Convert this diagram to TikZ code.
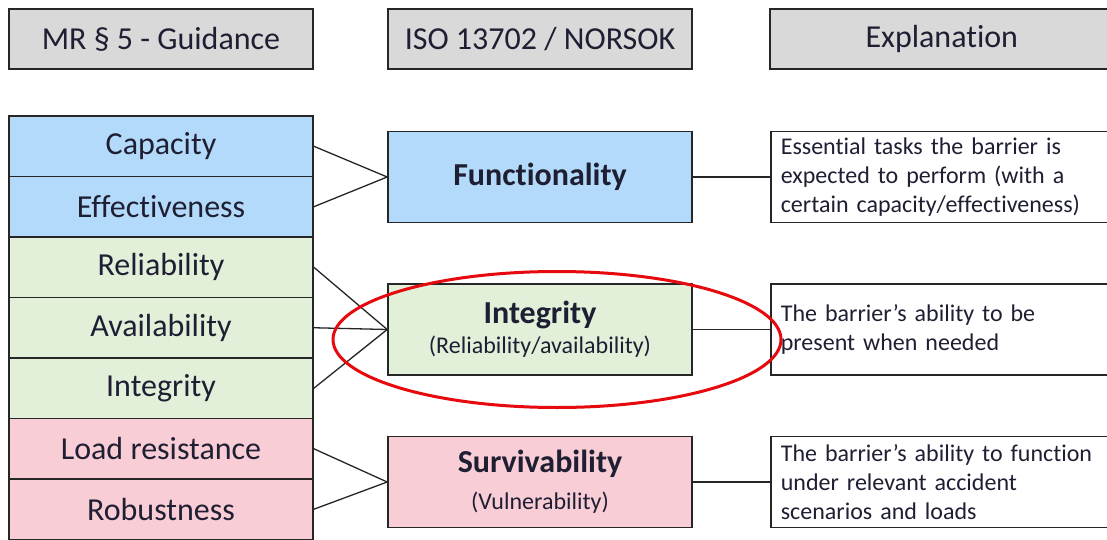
\documentclass[tikz,border=0pt]{standalone}
\usepackage{fontspec}
\setmainfont{Carlito}[Ligatures=NoCommon]
\usetikzlibrary{positioning,calc}
\definecolor{hdrgray}{HTML}{D9D9D9}
\definecolor{funblue}{HTML}{B3DAFA}
\definecolor{intgreen}{HTML}{E2EFD9}
\definecolor{survpink}{HTML}{F8CDD5}
\definecolor{edge}{HTML}{262626}
\definecolor{ink}{HTML}{1F1F33}
\definecolor{ringred}{HTML}{E60A0E}
\tikzset{cell/.style={draw=edge,line width=1.6pt,minimum width=304pt,minimum height=60.5pt,inner sep=0pt,font=\fontsize{32}{34}\selectfont,text=ink},
  hdr/.style={cell,fill=hdrgray,minimum height=60pt},
  prop/.style={cell,minimum height=91pt,align=center},
  expl/.style={draw=edge,line width=1.6pt,anchor=west,minimum width=350pt,minimum height=91pt,
    text width=330pt,inner xsep=10pt,align=left,font=\fontsize{24}{29}\selectfont,text=ink},
  link/.style={draw=edge,line width=1.3pt}}
\begin{document}
\begin{tikzpicture}[x=1pt,y=-1pt]
\useasboundingbox (0,0) rectangle (1107,540);
\clip (0,0) rectangle (1107,540);
\fill[white] (0,0) rectangle (1107,540);
% column headers
\node[hdr] (hmr) at (161,39) {MR § 5 - Guidance};
\node[hdr] (hiso) at (540,39) {ISO 13702 / NORSOK};
\node[hdr,anchor=west,minimum width=344pt] (hexp) at (769,39) {Explanation};
% guidance terms, one row each
\foreach \nm/\lab/\col [count=\i from 0] in {cap/Capacity/funblue,eff/Effectiveness/funblue,
  rel/Reliability/intgreen,avl/Availability/intgreen,itg/Integrity/intgreen,
  load/Load resistance/survpink,rob/Robustness/survpink}{
\node[cell,fill=\col] (\nm) at (161,146.25+60.5*\i) {\lab};
}
% standard properties
\node[prop,fill=funblue] (fun) at (540,177) {\textbf{Functionality}};
\node[prop,fill=intgreen] (integ) at (540,329.5) {\textbf{Integrity}\\[-4pt]{\fontsize{24}{26}\selectfont(Reliability/availability)}};
\node[prop,fill=survpink] (surv) at (540,482) {\textbf{Survivability}\\[3pt]{\fontsize{24}{26}\selectfont(Vulnerability)}};
% explanations
\node[expl] (efun) at (770,177) {Essential tasks the barrier is\\expected to perform (with a\\certain capacity/effectiveness)};
\node[expl] (einteg) at (770,329.5) {The barrier's ability to be\\present when needed};
\node[expl] (esurv) at (770,482) {The barrier's ability to function\\under relevant accident\\scenarios and loads};
% links
\foreach \a/\b in {cap/fun,eff/fun,rel/integ,avl/integ,itg/integ,load/surv,rob/surv}{
\draw[link] (\a.east) -- (\b.west);
}
\foreach \a/\b in {fun/efun,integ/einteg,surv/esurv}{
\draw[link] (\a.east) -- (\b.west);
}
% highlight ring
\draw[ringred,line width=3pt] ($(integ.center)+(17,10)$) ellipse [x radius=224pt,y radius=68pt];
\end{tikzpicture}
\end{document}
